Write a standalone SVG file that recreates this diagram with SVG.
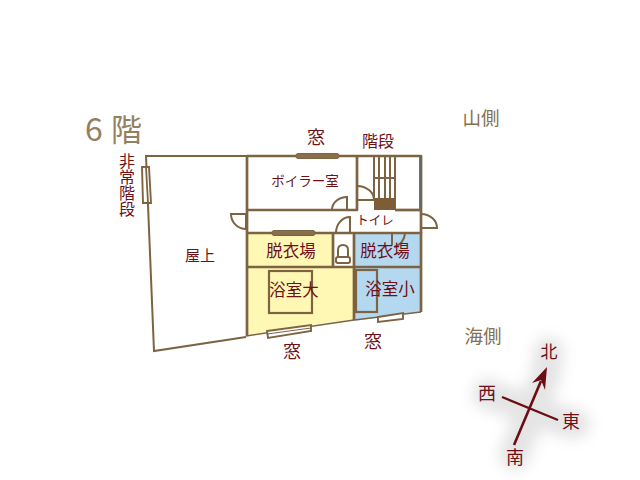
<svg xmlns="http://www.w3.org/2000/svg" width="640" height="480" viewBox="0 0 640 480">
<style>
.w{fill:none;stroke:#7d6342;stroke-width:2.7;stroke-linejoin:round}
.t{fill:none;stroke:#7d6342;stroke-width:2}
.win{fill:#8a6f4c;stroke:#7d6342;stroke-width:1}
.winw{fill:#fff;stroke:#7d6342;stroke-width:1.9}
text{font-family:"Noto Sans CJK JP","Noto Sans",sans-serif;fill:#6e1018}
.s{font-size:16.5px;text-anchor:middle}
.h{fill:#85704f;font-size:18.5px;text-anchor:middle}
.c{fill:none;stroke:#6b0d14}
</style>
<defs>
<filter id="b" x="-40%" y="-40%" width="180%" height="180%"><feGaussianBlur stdDeviation="7"/></filter>
</defs>
<g id="title"><text x="85" y="141" style="font-size:32px;fill:#94805f">6</text><text x="111" y="141" style="font-size:31px;fill:#94805f">階</text></g>
<g id="rooms">
<rect x="247" y="233" width="86" height="34" fill="#fff8b4"/>
<path d="M247 267H354V319L247 335Z" fill="#fff8b4"/>
<rect x="354" y="233" width="67" height="34" fill="#b3d8ef"/>
<path d="M354 267H421V312L354 321Z" fill="#b3d8ef"/>
</g>
<g id="roof"><path class="t" d="M247 156H146L154 351L246 337"/><text class="s" x="200" y="261" style="font-size:15px">屋上</text></g>
<g id="walls">
<path class="w" d="M247 156H421V233"/>
<path class="w" d="M247 156V336"/>
<path class="w" d="M247 210H357V156"/>
<path class="w" d="M395 210H421"/>
<path class="w" d="M247 233H421V312"/>
<path class="w" d="M247 267H421"/>
<path class="w" d="M333 233V267M354 233V320"/>
<path d="M421 312L354 320" stroke="#7d6342" stroke-width="1.6" fill="none"/>
<path d="M354 320L246 336" stroke="#7d6342" stroke-width="1.6" fill="none"/>
<path d="M420 157V209" stroke="#5d6a70" stroke-width="1.8" fill="none"/>
</g>
<g id="stairs">
<path class="t" d="M374 156V198M379 156V198M385 156V198M390 156V198M395 156V210M374 178H395"/>
<rect x="374" y="198" width="21" height="12" fill="#7d5c36"/>
</g>
<g id="doors">
<path class="t" d="M347 210V197A15 13 0 0 0 332 210"/>
<path class="t" d="M357 200H374A17 14 0 0 0 357 186"/>
<path class="t" d="M350 233V217A14 16 0 0 0 336 233"/>
<path class="t" d="M246 229V214H231A15 15 0 0 0 246 229"/>
<path class="t" d="M421 214A16 14 0 0 1 437 228H421"/>
<path class="t" d="M392 233V245M405 233A15 15 0 0 1 394 247"/>
</g>
<g id="windows">
<rect class="win" x="296" y="153.500" width="43" height="5" rx="2"/>
<rect class="win" x="272" y="230.500" width="43" height="5" rx="2"/>
<path class="winw" d="M142 167L149 167L151 203L143 203Z"/>
<path d="M146 167L148 203" stroke="#7d6342" stroke-width="1.8"/>
<path class="winw" d="M267 331L311 325L311 331L268 338Z"/>
<path d="M267 334L311 328" stroke="#7d6342" stroke-width="1" fill="none"/>
<path class="winw" d="M378 317L403 313L403 319L378 322Z"/>
</g>
<g id="fixtures">
<rect x="269" y="271" width="43" height="42" fill="none" stroke="#7d6342" stroke-width="2.2"/>
<rect x="356" y="270" width="21" height="42" fill="none" stroke="#7d6342" stroke-width="2.2"/>
<path d="M338 257V250Q338 245 343 245Q348 245 348 250V257" fill="#fff" stroke="#7d6342" stroke-width="2"/>
<rect x="336" y="257" width="14" height="6" rx="2" fill="#fff" stroke="#7d6342" stroke-width="2"/>
</g>
<g id="labels">
<text class="s" x="316" y="144" style="font-size:18px">窓</text>
<text class="s" x="378" y="147" style="font-size:16px">階段</text>
<text class="s" x="305" y="186" style="font-size:13.500px">ボイラー室</text>
<text class="s" x="375" y="225" style="font-size:12.500px">トイレ</text>
<text class="s" x="291" y="257">脱衣場</text>
<text class="s" x="385" y="257">脱衣場</text>
<text class="s" x="294" y="296">浴室大</text>
<text class="s" x="390" y="295">浴室小</text>
<text class="s" x="292" y="358" style="font-size:18px">窓</text>
<text class="s" x="373" y="348" style="font-size:18px">窓</text>
<text x="127" y="153" style="font-size:16px;writing-mode:vertical-rl">非常階段</text>
<text class="h" x="481" y="125">山側</text>
<text class="h" x="483" y="343">海側</text>
</g>
<g id="compass">
<path d="M549 352L546 375L514 455M487 394L558 420L575 424" stroke="#888" stroke-width="30" stroke-linecap="round" opacity=".22" filter="url(#b)" fill="none"/>
<path class="c" stroke-width="2.6" d="M514 445L541 381"/>
<path d="M547 367L532 383L541 380L545 390Z" fill="#6b0d14"/>
<path class="c" stroke-width="2.2" d="M502 397L558 420"/>
<text class="s" x="549" y="358" style="font-size:17px">北</text>
<text class="s" x="487" y="400" style="font-size:18px">西</text>
<text class="s" x="571" y="428" style="font-size:18px">東</text>
<text class="s" x="515" y="464" style="font-size:18px">南</text>
</g>
</svg>
